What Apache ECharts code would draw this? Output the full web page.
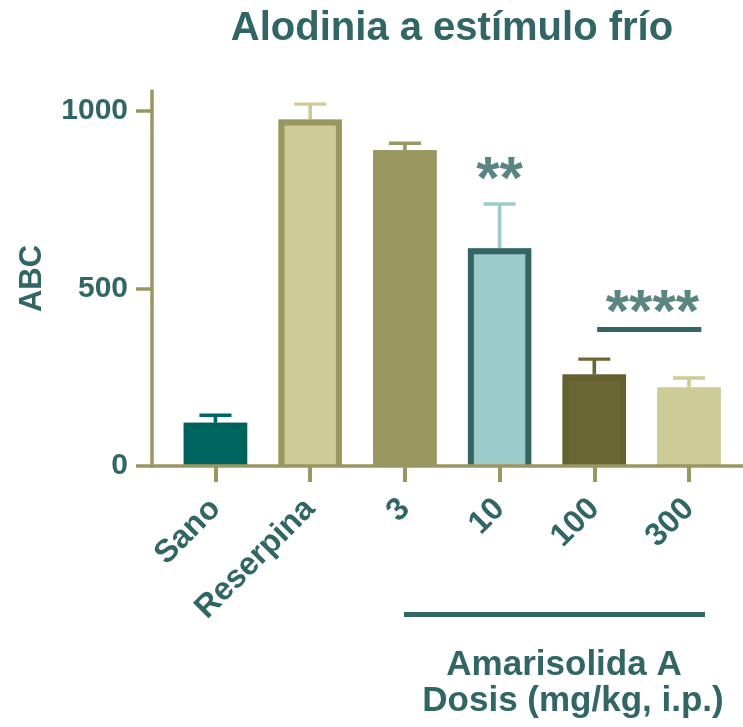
<!DOCTYPE html>
<html>
<head>
<meta charset="utf-8">
<script src="https://cdn.jsdelivr.net/npm/echarts@6/dist/echarts.min.js"></script>
<style>
  html, body { margin: 0; padding: 0; background: #ffffff; }
  #chart { width: 743px; height: 727px; }
</style>
</head>
<body>
<div id="chart"></div>
<script>
// Groups and measurements (mean ± SEM of ABC)
const categories = ['Sano', 'Reserpina', '3', '10', '100', '300'];
const means = [122, 976, 889, 613, 258, 221];
const sem = [21, 43, 20, 125, 43, 27];
const yTickValues = [0, 500, 1000];

// Significance annotations: [x position (group index), y value, text]
const starLabels = [[3, 800, '**'], [4.614, 428, '****']];
const starBar = [[4.03, 386], [5.13, 386]];

const groupTitle = 'Amarisolida A';
const groupSubtitle = 'Dosis (mg/kg, i.p.)';

// Styling
const FONT = '"Liberation Sans", Arial, sans-serif';
const TEAL = '#316664';
const AXIS = '#9a9660';
const fills = ['#006662', '#cdcb96', '#9a9660', '#9ccbcc', '#6b6735', '#cdcb96'];
const borders = ['#00605c', '#9a9660', '#9a9660', '#336663', '#646030', '#cdcb96'];
const errColors = ['#006662', '#cdcb96', '#9a9660', '#9ccbcc', '#6b6735', '#cdcb96'];
const BAR_W = 63.4;
const BORDER_W = 6;

const chart = echarts.init(document.getElementById('chart'), null, { renderer: 'canvas' });

const catIdx = categories.map((_, i) => i);

// Bars: filled column with an outline on the left, top and right sides (open at the baseline)
function renderBar(params, api) {
  const x = api.value(0);
  const v = api.value(1);
  const pTop = api.coord([x, v]);
  const pBase = api.coord([x, 0]);
  const i = params.dataIndex;
  const l = pTop[0] - BAR_W / 2, r = pTop[0] + BAR_W / 2;
  const h = BORDER_W / 2;
  return {
    type: 'group',
    children: [
      { type: 'rect', shape: { x: l, y: pTop[1], width: BAR_W, height: pBase[1] - pTop[1] },
        style: { fill: fills[i] } },
      { type: 'polyline',
        shape: { points: [[l + h, pBase[1]], [l + h, pTop[1] + h], [r - h, pTop[1] + h], [r - h, pBase[1]]] },
        style: { stroke: borders[i], lineWidth: BORDER_W, fill: null, lineJoin: 'miter' } }
    ]
  };
}

// Upward SEM whiskers with a cap
function renderError(params, api) {
  const x = api.value(0);
  const m = api.value(1);
  const top = m + api.value(2);
  const p0 = api.coord([x, m]);
  const p1 = api.coord([x, top]);
  const color = errColors[params.dataIndex];
  const half = 16;
  return {
    type: 'group',
    children: [
      { type: 'line', shape: { x1: p0[0], y1: p0[1], x2: p1[0], y2: p1[1] },
        style: { stroke: color, lineWidth: 3.6 } },
      { type: 'line', shape: { x1: p1[0] - half, y1: p1[1], x2: p1[0] + half, y2: p1[1] },
        style: { stroke: color, lineWidth: 3.4 } }
    ]
  };
}

chart.setOption({
  animation: false,
  backgroundColor: '#ffffff',
  textStyle: { fontFamily: FONT },
  title: {
    text: 'Alodinia a estímulo frío',
    left: 447,
    top: 4,
    textAlign: 'center',
    textStyle: { fontFamily: FONT, fontSize: 40, fontWeight: 'bold', color: TEAL }
  },
  grid: { left: 152, right: 0, top: 91, bottom: 261, containLabel: false },
  xAxis: {
    type: 'value',
    min: -0.67,
    max: 5.57,
    z: 10,
    splitLine: { show: false },
    axisLine: { show: true, onZero: false, lineStyle: { color: AXIS, width: 3.5 } },
    axisTick: { show: true, customValues: catIdx, length: 16, lineStyle: { color: AXIS, width: 4 } },
    axisLabel: {
      show: true,
      customValues: catIdx,
      rotate: 45,
      margin: 38,
      formatter: v => categories[Math.round(v)],
      fontFamily: FONT, fontSize: 32, fontWeight: 'bold', color: TEAL
    }
  },
  yAxis: {
    type: 'value',
    min: 0,
    max: 1056,
    z: 10,
    name: 'ABC',
    nameLocation: 'middle',
    nameRotate: 90,
    nameGap: 104,
    nameTextStyle: { fontFamily: FONT, fontSize: 31, fontWeight: 'bold', color: TEAL },
    splitLine: { show: false },
    axisLine: { show: true, onZero: false, lineStyle: { color: AXIS, width: 3.5 } },
    axisTick: { show: true, customValues: yTickValues, length: 16, lineStyle: { color: AXIS, width: 3.5 } },
    axisLabel: {
      show: true,
      customValues: yTickValues,
      margin: 24,
      formatter: v => String(v),
      fontFamily: FONT, fontSize: 30, fontWeight: 'bold', color: TEAL
    }
  },
  series: [
    {
      name: 'SEM',
      type: 'custom',
      z: 1,
      data: means.map((m, i) => [i, m, sem[i]]),
      renderItem: renderError
    },
    {
      name: 'ABC',
      type: 'custom',
      z: 2,
      data: means.map((m, i) => [i, m]),
      renderItem: renderBar,
      markLine: {
        silent: true,
        symbol: ['none', 'none'],
        label: { show: false },
        lineStyle: { color: TEAL, width: 5, type: 'solid' },
        data: [[{ coord: starBar[0] }, { coord: starBar[1] }]]
      }
    },
    {
      name: 'Significancia',
      type: 'scatter',
      z: 5,
      symbolSize: 0,
      data: starLabels,
      label: {
        show: true,
        position: 'inside',
        formatter: p => p.data[2],
        fontFamily: FONT, fontSize: 60, fontWeight: 'bold', color: TEAL
      }
    }
  ],
  graphic: [
    { type: 'line', shape: { x1: 404, y1: 614.5, x2: 705, y2: 614.5 },
      style: { stroke: TEAL, lineWidth: 5 } },
    { type: 'text', x: 564, y: 665, style: { text: groupTitle, align: 'center', verticalAlign: 'middle',
      font: 'bold 35px ' + FONT, fill: TEAL } },
    { type: 'text', x: 573, y: 701, style: { text: groupSubtitle, align: 'center', verticalAlign: 'middle',
      font: 'bold 35px ' + FONT, fill: TEAL } }
  ]
});
</script>
</body>
</html>
